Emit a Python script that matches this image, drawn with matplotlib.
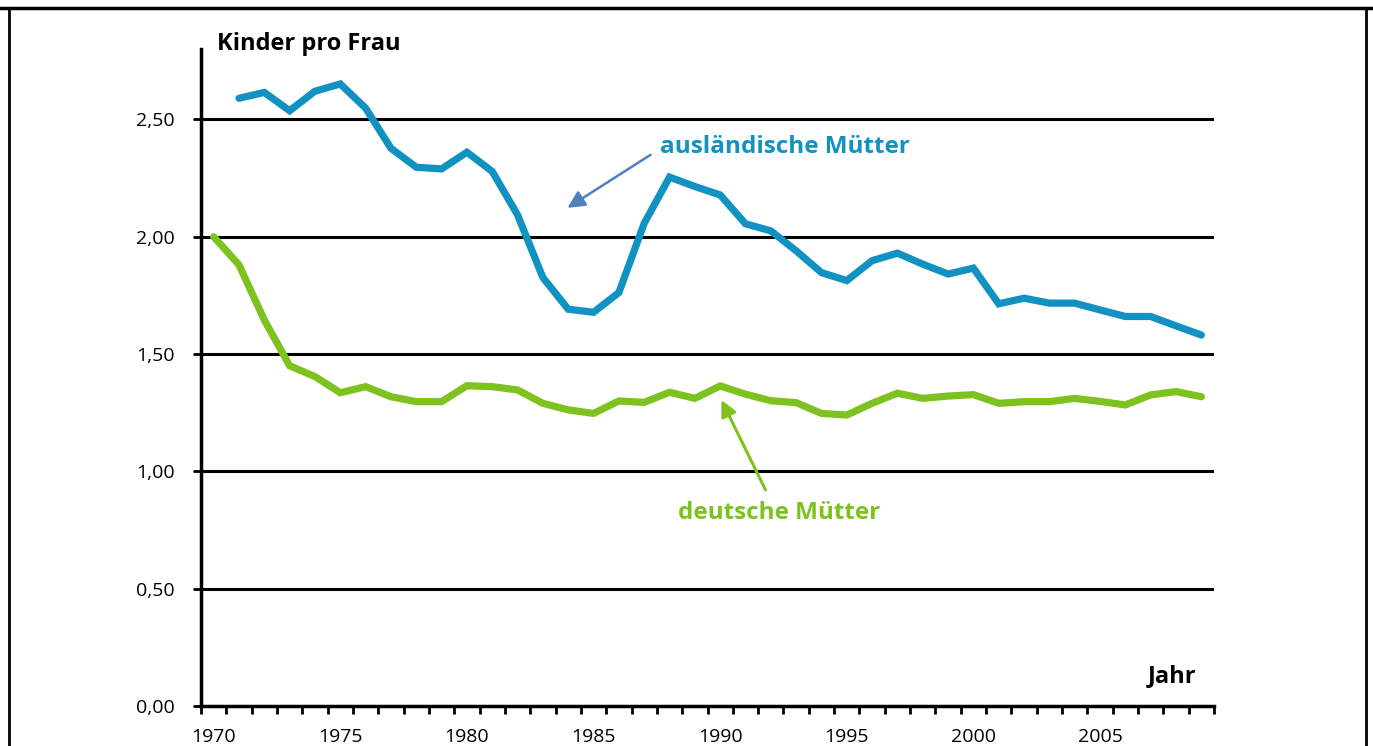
import matplotlib
matplotlib.use("Agg")
import matplotlib.pyplot as plt
from matplotlib.lines import Line2D
import numpy as np

# data
years_de = list(range(1970, 2010))
deutsche = [2.00, 1.88, 1.645, 1.45, 1.404, 1.335, 1.361, 1.318, 1.297, 1.297,
            1.365, 1.361, 1.347, 1.29, 1.262, 1.247, 1.30, 1.294, 1.337, 1.311,
            1.364, 1.329, 1.301, 1.293, 1.247, 1.24, 1.29, 1.333, 1.311, 1.321,
            1.327, 1.29, 1.297, 1.297, 1.311, 1.298, 1.283, 1.326, 1.34, 1.318]

years_aus = list(range(1971, 2010))
auslaender = [2.59, 2.615, 2.537, 2.62, 2.651, 2.548, 2.377, 2.296, 2.289,
              2.36, 2.278, 2.093, 1.826, 1.691, 1.678, 1.762, 2.057, 2.254, 2.214,
              2.178, 2.055, 2.025, 1.94, 1.847, 1.813, 1.898, 1.93, 1.883, 1.841,
              1.866, 1.714, 1.738, 1.717, 1.717, 1.688, 1.66, 1.66, 1.62, 1.581]

y_ticks = [0.0, 0.5, 1.0, 1.5, 2.0, 2.5]
x_label_years = [1970, 1975, 1980, 1985, 1990, 1995, 2000, 2005]

blue = "#1192c2"
green = "#7dc21e"
arrow_blue = "#4f81c0"

plt.rcParams['font.family'] = ['Open Sans', 'DejaVu Sans']

fig = plt.figure(figsize=(13.73, 7.46), dpi=100)
ax = fig.add_axes([201 / 1373, 40 / 746, 1013 / 1373, 657 / 746])

ax.set_xlim(1969.5, 2009.5)
ax.set_ylim(0, 2.8)

for v in y_ticks[1:]:
    ax.axhline(v, color="black", lw=2.2, zorder=1)

ax.plot(years_aus, auslaender, color=blue, lw=5.2, solid_joinstyle="miter",
        solid_capstyle="round", zorder=3)
ax.plot(years_de, deutsche, color=green, lw=5.2, solid_joinstyle="miter",
        solid_capstyle="round", zorder=3)

for s in ["top", "right"]:
    ax.spines[s].set_visible(False)
for s in ["left", "bottom"]:
    ax.spines[s].set_linewidth(2.5)

ax.set_yticks(y_ticks)
ax.set_yticklabels([f"{v:.2f}".replace(".", ",") for v in y_ticks], fontsize=14)
ax.tick_params(axis="y", direction="out", length=6, width=2, pad=13)

ax.set_xticks(np.arange(1969.5, 2010, 1.0))
ax.set_xticklabels([])
ax.tick_params(axis="x", which="major", direction="out", length=6, width=2)
ax.set_xticks(x_label_years, minor=True)
ax.set_xticklabels([str(y) for y in x_label_years], minor=True, fontsize=14)
ax.tick_params(axis="x", which="minor", length=0, pad=16)

# annotations
ax.text(1987.64, 2.383, "ausländische Mütter", color=blue, fontsize=17.5,
        fontweight="bold", va="center", ha="left")
ax.annotate("", xy=(1983.97, 2.123), xytext=(1987.25, 2.349),
            arrowprops=dict(arrowstyle="-|>", color=arrow_blue, lw=1.8,
                            mutation_scale=26, shrinkA=0, shrinkB=0))
ax.text(1988.35, 0.823, "deutsche Mütter", color=green, fontsize=17.5,
        fontweight="bold", va="center", ha="left")
ax.annotate("", xy=(1990.05, 1.304), xytext=(1991.79, 0.921),
            arrowprops=dict(arrowstyle="-|>", color=green, lw=2.2,
                            mutation_scale=24, shrinkA=0, shrinkB=0))

fig.text(217 / 1373, 1 - 44 / 746, "Kinder pro Frau", fontsize=17,
         fontweight="bold", va="center", ha="left")
fig.text(1196 / 1373, 1 - 676 / 746, "Jahr", fontsize=17,
         fontweight="bold", va="center", ha="right")

# frame around the chart
fig.add_artist(Line2D([0, 1], [1 - 8 / 746, 1 - 8 / 746], color="black", lw=2.5))
fig.add_artist(Line2D([9 / 1373, 9 / 1373], [0, 1 - 8 / 746], color="black", lw=2))
fig.add_artist(Line2D([1366 / 1373, 1366 / 1373], [0, 1 - 8 / 746], color="black", lw=2))

fig.savefig("out.png", dpi=100)
